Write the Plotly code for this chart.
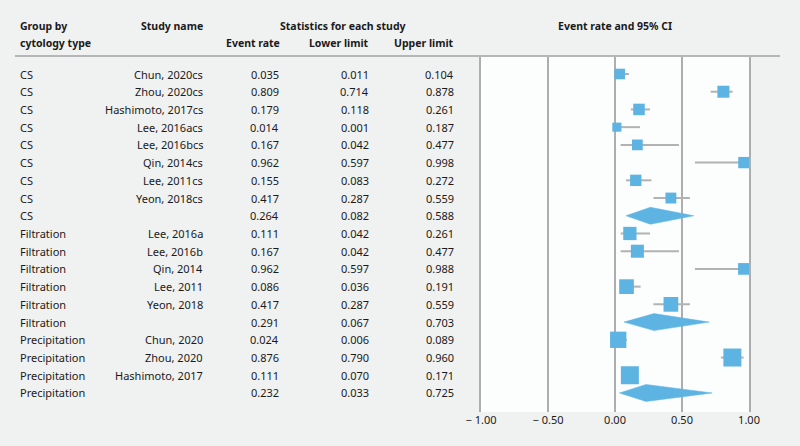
import plotly.graph_objects as go

# ---------------- data ----------------
groups = ["CS"] * 9 + ["Filtration"] * 6 + ["Precipitation"] * 4
studies = ["Chun, 2020cs", "Zhou, 2020cs", "Hashimoto, 2017cs", "Lee, 2016acs",
           "Lee, 2016bcs", "Qin, 2014cs", "Lee, 2011cs", "Yeon, 2018cs", "",
           "Lee, 2016a", "Lee, 2016b", "Qin, 2014", "Lee, 2011", "Yeon, 2018", "",
           "Chun, 2020", "Zhou, 2020", "Hashimoto, 2017", ""]
event_rate = [0.035, 0.809, 0.179, 0.014, 0.167, 0.962, 0.155, 0.417, 0.264,
              0.111, 0.167, 0.962, 0.086, 0.417, 0.291,
              0.024, 0.876, 0.111, 0.232]
lower_limit = [0.011, 0.714, 0.118, 0.001, 0.042, 0.597, 0.083, 0.287, 0.082,
               0.042, 0.042, 0.597, 0.036, 0.287, 0.067,
               0.006, 0.790, 0.070, 0.033]
upper_limit = [0.104, 0.878, 0.261, 0.187, 0.477, 0.998, 0.272, 0.559, 0.588,
               0.261, 0.477, 0.988, 0.191, 0.559, 0.703,
               0.089, 0.960, 0.171, 0.725]
# relative weights (estimated from square areas); None = pooled summary row
rel_weight = [7.0, 9.0, 8.3, 5.2, 7.2, 8.0, 8.0, 7.4, None,
              11.0, 10.6, 8.5, 13.5, 13.5, None,
              16.6, 20.2, 20.2, None]
tick_vals = [-1.0, -0.5, 0.0, 0.5, 1.0]
tick_labels = ["\u2212 1.00", "\u2212 0.50", "0.00", "0.50", "1.00"]

# ---------------- layout helpers ----------------
W, H = 800, 446
def px(x):
    return x / W
def py(y):
    return 1 - y / H

ROW0, ROWSTEP = 74.0, 17.72
PANEL_TOP, PANEL_BOT = 57.0, 412.0
PANEL_L, PANEL_R = 481.0, 749.0
y_top = (PANEL_TOP - ROW0) / ROWSTEP
y_bot = (PANEL_BOT - ROW0) / ROWSTEP

BLUE = "#5db4e2"
GRID = "#acaeb0"
TXT = "#1a1a1a"
BG = "#f0f1f1"
FONT = "Noto Sans"

fig = go.Figure()

n = len(groups)
rows = list(range(n))

# CI whiskers for individual studies
wx, wy = [], []
for i in rows:
    if rel_weight[i] is not None:
        wx += [lower_limit[i], upper_limit[i], None]
        wy += [i, i, None]
fig.add_trace(go.Scatter(x=wx, y=wy, mode="lines",
                         line=dict(color="#b2b2b2", width=2),
                         hoverinfo="skip", showlegend=False))

# squares
sx = [event_rate[i] for i in rows if rel_weight[i] is not None]
sy = [i for i in rows if rel_weight[i] is not None]
ss = [4.0 * rel_weight[i] ** 0.5 for i in rows if rel_weight[i] is not None]
fig.add_trace(go.Scatter(x=sx, y=sy, mode="markers", opacity=1,
                         marker=dict(symbol="square", size=ss, color=BLUE,
                                     opacity=1, line=dict(width=0)),
                         showlegend=False))

# diamonds for pooled summaries
half_h = 8.5 / ROWSTEP
for i in rows:
    if rel_weight[i] is None:
        fig.add_trace(go.Scatter(
            x=[lower_limit[i], event_rate[i], upper_limit[i], event_rate[i], lower_limit[i]],
            y=[i, i - half_h, i, i + half_h, i],
            mode="lines", fill="toself", fillcolor=BLUE, opacity=1,
            line=dict(color=BLUE, width=0.5), showlegend=False, hoverinfo="skip"))

# ---------------- table text ----------------
ann = []
fs = 11
for i in rows:
    ann.append(dict(x=px(18), y=i, xref="paper", yref="y", text=groups[i],
                    xanchor="left", yanchor="middle", showarrow=False))
    if studies[i]:
        ann.append(dict(x=px(205), y=i, xref="paper", yref="y", text=studies[i],
                        xanchor="right", yanchor="middle", showarrow=False))
    for col_x, vals in ((281, event_rate), (371, lower_limit), (456, upper_limit)):
        ann.append(dict(x=px(col_x), y=i, xref="paper", yref="y",
                        text=f"{vals[i]:.3f}", xanchor="right", yanchor="middle",
                        showarrow=False))

headers = [
    (18, 26, "Group by", "left"),
    (18, 43, "cytology type", "left"),
    (205, 26, "Study name", "right"),
    (343, 26, "Statistics for each study", "center"),
    (282, 43, "Event rate", "right"),
    (371, 43, "Lower limit", "right"),
    (456, 43, "Upper limit", "right"),
    (615, 26, "Event rate and 95% CI", "center"),
]
for hx, hy, t, anc in headers:
    ann.append(dict(x=px(hx), y=py(hy), xref="paper", yref="paper",
                    text=f"<b>{t}</b>", xanchor=anc, yanchor="middle",
                    font=dict(size=10.5), showarrow=False))

fig.update_layout(
    width=W, height=H,
    margin=dict(l=0, r=0, t=0, b=0),
    paper_bgcolor=BG,
    plot_bgcolor="#fcfdfd",
    font=dict(family=FONT, size=fs, color=TXT),
    annotations=ann,
    hovermode=False,
    shapes=[dict(type="line", xref="paper", yref="paper",
                 x0=px(15), x1=px(780), y0=py(56), y1=py(56),
                 line=dict(color="#b4b6b8", width=2))],
    xaxis=dict(domain=[px(PANEL_L), px(PANEL_R)], range=[-1, 1],
               tickvals=tick_vals, ticktext=tick_labels,
               showgrid=True, gridcolor=GRID, gridwidth=2,
               zeroline=True, zerolinecolor=GRID, zerolinewidth=2,
               showline=False, ticks="", ticklen=0,
               tickfont=dict(size=11, color=TXT), automargin=False,
               fixedrange=True),
    yaxis=dict(domain=[py(PANEL_BOT), py(PANEL_TOP)], range=[y_bot, y_top],
               showgrid=False, zeroline=False, showticklabels=False,
               showline=True, mirror=True, linecolor=GRID, linewidth=2,
               automargin=False, fixedrange=True),
)

fig.write_html(
    "out.html",
    config={"displayModeBar": False, "staticPlot": False},
    post_script=("document.body.style.margin='0';"
                 "document.body.style.padding='0';"
                 "document.body.style.background='" + BG + "';"
                 "document.documentElement.style.overflow='hidden';"),
)
